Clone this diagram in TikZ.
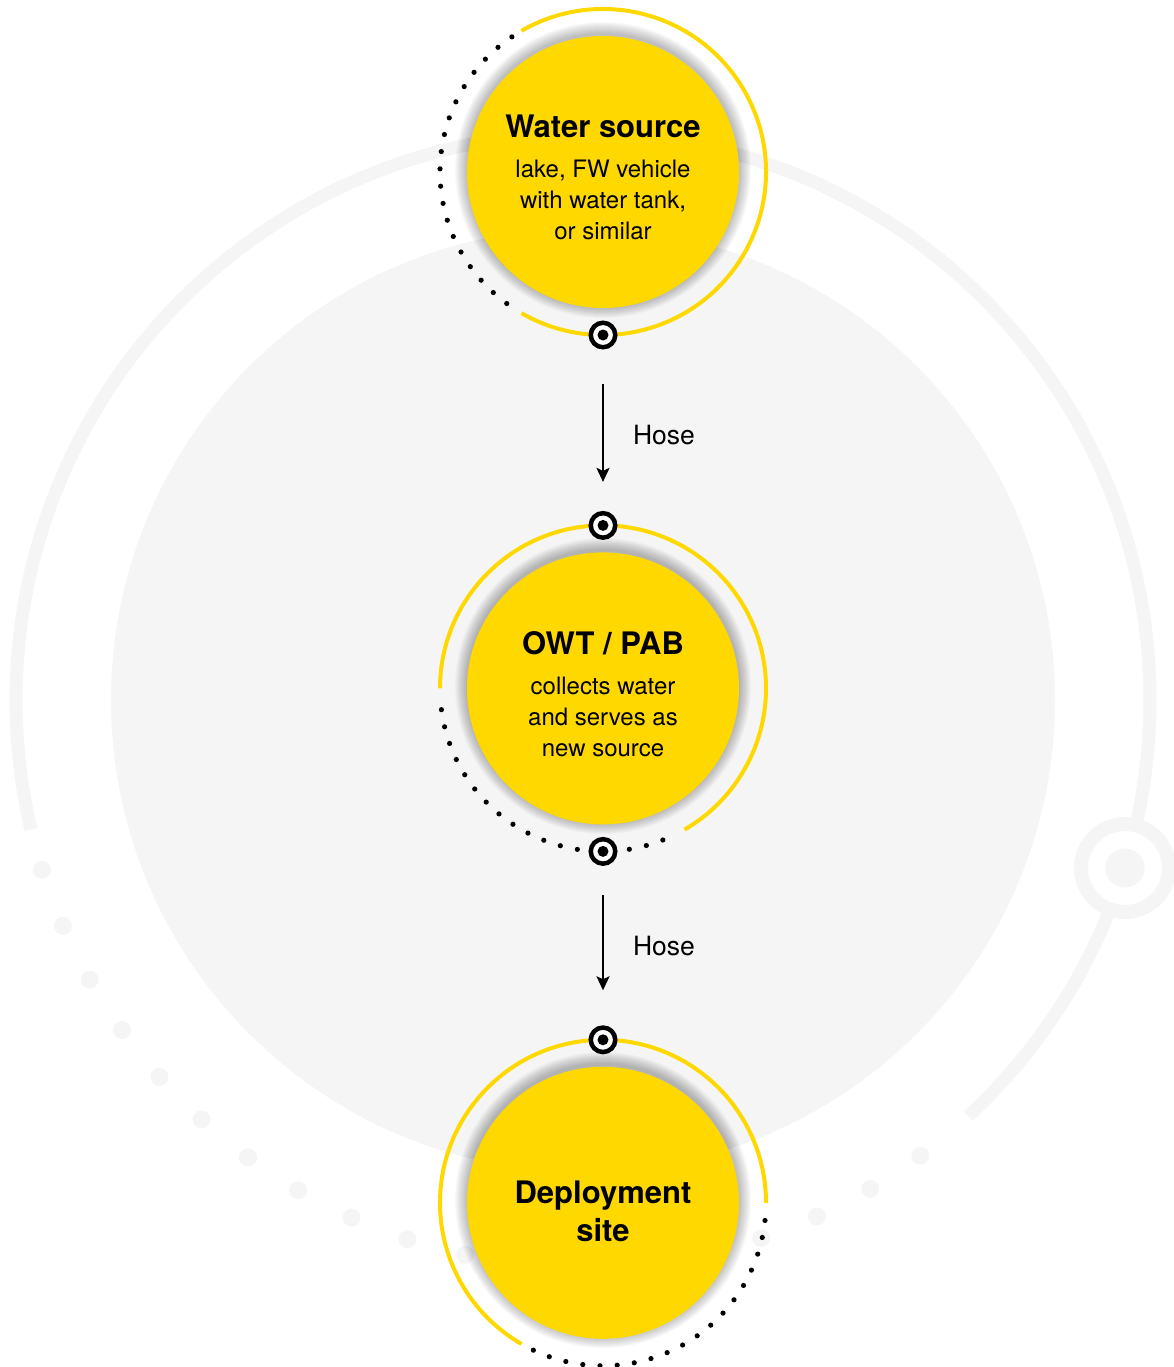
\documentclass[tikz,border=0pt]{standalone}
\usepackage{fontspec}
\setmainfont{TeX Gyre Heros}
\usepackage{tikz}
\usetikzlibrary{arrows.meta,positioning,calc}

\definecolor{signal}{HTML}{FFD800}
\definecolor{backdrop}{HTML}{F5F5F5}

\tikzset{
  station/.style={circle, fill=signal, minimum size=272pt, inner sep=0pt,
    align=center, font=\fontsize{24}{31}\selectfont},
  ringarc/.style={signal, line width=4pt},
  port/.style={circle, draw=black, fill=white, line width=4.5pt,
    minimum size=24.5pt, inner sep=0pt,
    path picture={\fill[black] (path picture bounding box.center) circle (5.5pt);}},
  hose/.style={-{Stealth[length=14pt, width=13pt, inset=3pt]}, line width=2.2pt},
  hoselabel/.style={font=\fontsize{26.5}{30}\selectfont, inner sep=0pt}
}
\newcommand{\headline}[1]{{\fontsize{31}{38}\selectfont\bfseries\rule{0pt}{34pt}#1}}

\begin{document}
\begin{tikzpicture}[x=1pt, y=1pt]
    \useasboundingbox (0,0) rectangle (1174,-1367);

    % Backdrop: grey disc, outer ring and its trail of dots
    \fill[backdrop] (583,-700) circle (472);
    \draw[backdrop, line width=13pt] (583,-700) ++(-47.2:567)
        arc[start angle=-47.2, end angle=193.2, radius=567];
    \foreach \i in {0,...,18}
        \fill[backdrop] (583,-700) ++({-53.5-6.06*\i}:567) circle (9);
    \fill[white] (1125,-868) circle (44);
    \draw[backdrop, line width=14pt] (1125,-868) circle (44);
    \fill[backdrop] (1125,-868) circle (19.5);

    % Soft shadows under the stations
    \foreach \y in {172,688,1202}
        \foreach \g in {1,...,12}
            \fill[black, opacity=0.025] (603,{2-\y}) circle ({136+\g});

    % Stations
    \node[station] (src) at (603,-172)
        {\headline{Water source}\\[9pt]lake, FW vehicle\\with water tank,\\or similar};
    \node[station, below=244pt of src] (owt)
        {\headline{OWT / PAB}\\[9pt]collects water\\and serves as\\new source};
    \node[station, below=242pt of owt, font=\fontsize{31}{38}\selectfont\bfseries] (site)
        {\rule{0pt}{40pt}Deployment\\site};

    % Rings round the stations
    \draw[ringarc] (src.center) ++(120:163) arc[start angle=120, end angle=-120, radius=163];
    \foreach \i in {0,...,18}
        \fill (src.center) ++({124+6.1*\i}:163) circle (2.6);
    \draw[ringarc] (owt.center) ++(180:163) arc[start angle=180, end angle=-60, radius=163];
    \foreach \i in {0,...,17}
        \fill (owt.center) ++({187.5+6.12*\i}:163) circle (2.6);
    \draw[ringarc] (site.center) ++(0:163) arc[start angle=0, end angle=240, radius=163];
    \foreach \i in {0,...,18}
        \fill (site.center) ++({244.7+6.06*\i}:163) circle (2.6);

    % Ports
    \node[port] (src-out) at ([yshift=-163pt]src.center) {};
    \node[port] (owt-in) at ([yshift=163pt]owt.center) {};
    \node[port] (owt-out) at ([yshift=-163pt]owt.center) {};
    \node[port] (site-in) at ([yshift=163pt]site.center) {};

    % Hoses
    \draw[hose, shorten <=34pt, shorten >=29pt] (src-out)
        -- node[hoselabel, pos=0.53, right=29pt] {Hose} (owt-in);
    \draw[hose, shorten <=29pt, shorten >=35pt] (owt-out)
        -- node[hoselabel, right=29pt] {Hose} (site-in);
\end{tikzpicture}
\end{document}
